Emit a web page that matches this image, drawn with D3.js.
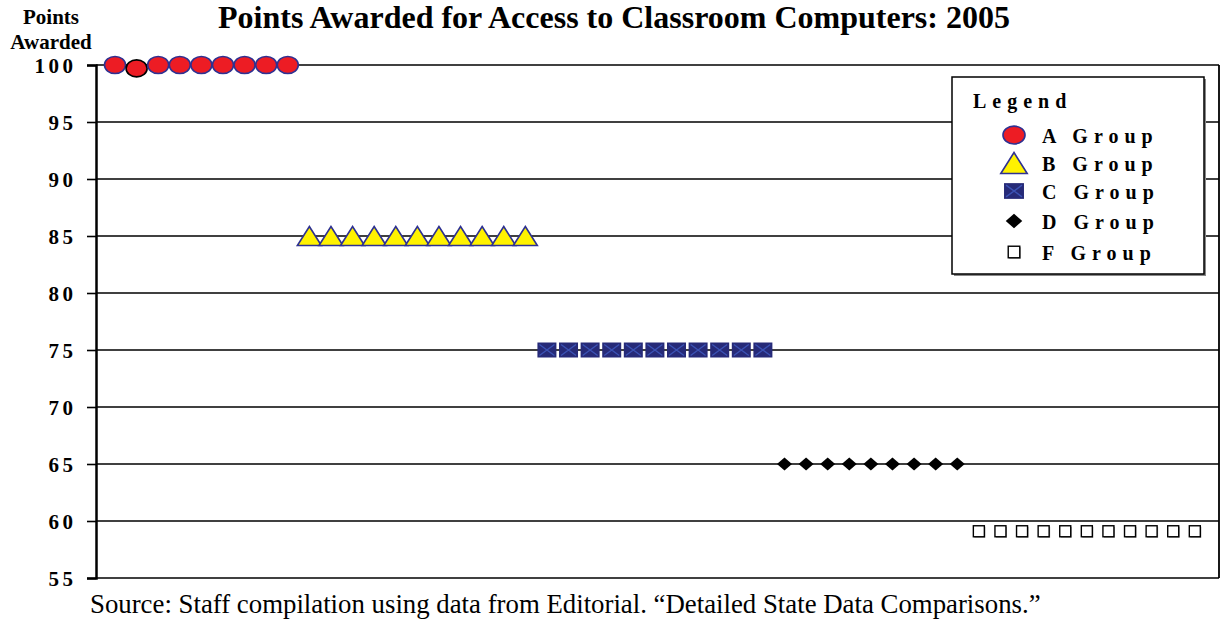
<!DOCTYPE html>
<html>
<head>
<meta charset="utf-8">
<script src="https://cdn.jsdelivr.net/npm/d3@7"></script>
<style>
  body { margin: 0; background: #fff; }
  svg { display: block; }
</style>
</head>
<body>
<script>
// chart values
var groupNames = ["A Group", "B Group", "C Group", "D Group", "F Group"];
var aScores = [100, 99.7, 100, 100, 100, 100, 100, 100, 100];
var bScores = [85, 85, 85, 85, 85, 85, 85, 85, 85, 85, 85];
var cScores = [75, 75, 75, 75, 75, 75, 75, 75, 75, 75, 75];
var dScores = [65, 65, 65, 65, 65, 65, 65, 65, 65];
var fScores = [59.1, 59.1, 59.1, 59.1, 59.1, 59.1, 59.1, 59.1, 59.1, 59.1, 59.1];
var yTicks = [55, 60, 65, 70, 75, 80, 85, 90, 95, 100];

var w = 1227, h = 620;
var plotL = 96, plotR = 1219, plotT = 65, plotB = 578;
var serif = "'Times New Roman', 'Liberation Serif', serif";

// flatten into one row of states, in order
var points = [];
[aScores, bScores, cScores, dScores, fScores].forEach(function(arr, g) {
  arr.forEach(function(v, i) {
    points.push({group: g, value: v, odd: (g == 0 && i == 1)});
  });
});
points.forEach(function(d, i) { d.idx = i + 1; });

var x = d3.scaleLinear().domain([0.12, 52.12]).range([plotL, plotR]);
var y = d3.scaleLinear().domain([55, 100]).range([plotB, plotT]);

var svg = d3.select("body").append("svg")
  .attr("width", w)
  .attr("height", h);

//Title
svg.append("text")
  .attr("x", 614).attr("y", 28)
  .attr("text-anchor", "middle")
  .style("font-family", serif)
  .style("font-weight", "bold")
  .style("font-size", "32px")
  .text("Points Awarded for Access to Classroom Computers: 2005");

//y label
svg.append("text")
  .attr("x", 51).attr("y", 24)
  .attr("text-anchor", "middle")
  .style("font-family", serif).style("font-weight", "bold").style("font-size", "21px")
  .text("Points");
svg.append("text")
  .attr("x", 51).attr("y", 49)
  .attr("text-anchor", "middle")
  .style("font-family", serif).style("font-weight", "bold").style("font-size", "21px")
  .text("Awarded");

//gridlines
svg.append("g").selectAll("line")
  .data(yTicks)
  .enter().append("line")
  .attr("x1", plotL).attr("x2", plotR)
  .attr("y1", function(d) { return y(d); })
  .attr("y2", function(d) { return y(d); })
  .attr("stroke", "#000")
  .attr("stroke-width", 1.6);

//left axis
var yAxis = d3.axisLeft(y).tickValues(yTicks).tickSize(9).tickPadding(14);
var ag = svg.append("g")
  .attr("transform", "translate(" + plotL + ",0)")
  .call(yAxis);
ag.select(".domain").attr("stroke", "#000").attr("stroke-width", 2.5);
ag.selectAll(".tick line").attr("stroke", "#000").attr("stroke-width", 1.6);
ag.selectAll(".tick text")
  .attr("fill", "#000")
  .attr("dx", 3.5)
  .attr("dy", "0.36em")
  .style("font-family", serif)
  .style("font-weight", "bold")
  .style("font-size", "21px")
  .style("letter-spacing", "3.5px");

//right border
svg.append("line")
  .attr("x1", plotR).attr("x2", plotR)
  .attr("y1", plotT).attr("y2", plotB)
  .attr("stroke", "#000").attr("stroke-width", 1.8);

//marker drawing
var navy = "#2e3192";
function drawMarker(sel, g, s, odd) {
  if (g == 0) {
    sel.append("ellipse")
      .attr("rx", 10.5 * s).attr("ry", 8.5 * s)
      .attr("fill", "#ed1c24")
      .attr("stroke", odd ? "#000" : navy)
      .attr("stroke-width", 1.6);
  } else if (g == 1) {
    var tw = 12 * s, th = 9.5 * s;
    sel.append("path")
      .attr("d", "M0," + (-th) + "L" + tw + "," + th + "L" + (-tw) + "," + th + "Z")
      .attr("fill", "#fff200")
      .attr("stroke", navy)
      .attr("stroke-width", 1.6)
      .attr("stroke-linejoin", "miter");
  } else if (g == 2) {
    var sw = 9.5 * s, sh = 7.5 * s;
    sel.append("rect")
      .attr("x", -sw).attr("y", -sh)
      .attr("width", sw * 2).attr("height", sh * 2)
      .attr("fill", "#262a78");
    sel.append("path")
      .attr("d", "M" + (-sw + 2) + "," + (-sh + 2) + "L" + (sw - 2) + "," + (sh - 2) +
                 "M" + (-sw + 2) + "," + (sh - 2) + "L" + (sw - 2) + "," + (-sh + 2))
      .attr("stroke", "#3b52b4")
      .attr("stroke-width", 1.4)
      .attr("fill", "none");
  } else if (g == 3) {
    var dw = 7.5 * s, dh = 6.5 * s;
    sel.append("path")
      .attr("d", "M0," + (-dh) + "L" + dw + ",0L0," + dh + "L" + (-dw) + ",0Z")
      .attr("fill", "#000");
  } else {
    var fw = 5.5 * s;
    sel.append("rect")
      .attr("x", -fw + 1).attr("y", -fw + 1)
      .attr("width", fw * 2).attr("height", fw * 2)
      .attr("fill", "#999");
    sel.append("rect")
      .attr("x", -fw).attr("y", -fw)
      .attr("width", fw * 2).attr("height", fw * 2)
      .attr("fill", "#fff")
      .attr("stroke", "#000")
      .attr("stroke-width", 1.4);
  }
}

//data points
svg.append("g").selectAll("g")
  .data(points)
  .enter().append("g")
  .attr("transform", function(d) { return "translate(" + x(d.idx) + "," + y(d.value) + ")"; })
  .each(function(d) { drawMarker(d3.select(this), d.group, 1, d.odd); });

//legend
var lg = svg.append("g");
lg.append("rect")
  .attr("x", 954).attr("y", 79)
  .attr("width", 252).attr("height", 197)
  .attr("fill", "#888");
lg.append("rect")
  .attr("x", 952).attr("y", 77)
  .attr("width", 252).attr("height", 197)
  .attr("fill", "#fff")
  .attr("stroke", "#000")
  .attr("stroke-width", 1.5);
lg.append("text")
  .attr("x", 973).attr("y", 108)
  .style("font-family", serif).style("font-weight", "bold").style("font-size", "20px")
  .style("letter-spacing", "6px")
  .text("Legend");

var legendY = [135, 163, 191, 221, 252];
var legendScale = [1.05, 1.1, 1.05, 1.1, 1.05];
var items = lg.selectAll(".item")
  .data(groupNames)
  .enter().append("g")
  .attr("class", "item")
  .attr("transform", function(d, i) { return "translate(0," + legendY[i] + ")"; });
items.append("g")
  .attr("transform", "translate(1014,0)")
  .each(function(d, i) { drawMarker(d3.select(this), i, legendScale[i], false); });
items.append("text")
  .attr("x", 1042).attr("y", 8)
  .style("font-family", serif).style("font-weight", "bold").style("font-size", "20px")
  .style("letter-spacing", "6px")
  .text(function(d) { return d; });

//source
svg.append("text")
  .attr("x", 90).attr("y", 613)
  .style("font-family", serif)
  .style("font-size", "26.8px")
  .text("Source: Staff compilation using data from Editorial. \u201CDetailed State Data Comparisons.\u201D");
</script>
</body>
</html>
